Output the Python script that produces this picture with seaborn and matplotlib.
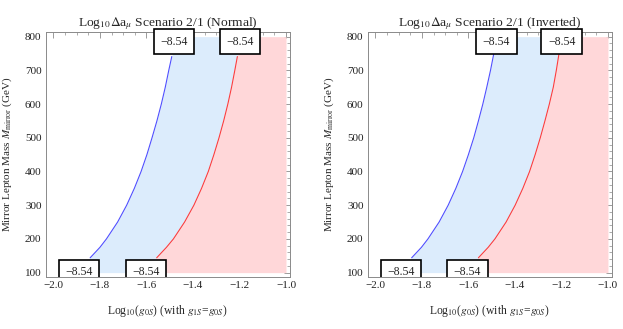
import numpy as np
import pandas as pd
import matplotlib
matplotlib.use('Agg')
import matplotlib.pyplot as plt
import seaborn as sns
from matplotlib.ticker import MultipleLocator

# contour points: (log10 g0S, mass in GeV)
mass = [144, 175, 200, 250, 300, 350, 400, 450, 500, 550, 600, 650, 700, 741]
normal_blue = [-1.842, -1.800, -1.772, -1.724, -1.685, -1.652, -1.623,
               -1.598, -1.576, -1.555, -1.536, -1.519, -1.504, -1.491]
normal_red = [-1.556, -1.514, -1.484, -1.436, -1.396, -1.363, -1.334,
              -1.310, -1.288, -1.268, -1.250, -1.234, -1.220, -1.209]

mass_inv = [144, 175, 200, 250, 300, 350, 400, 450, 500, 550, 600, 650, 700, 756]
inverted_blue = [-1.844, -1.802, -1.774, -1.726, -1.687, -1.654, -1.625,
                 -1.600, -1.577, -1.557, -1.538, -1.521, -1.505, -1.489]
inverted_red = [-1.557, -1.515, -1.486, -1.438, -1.399, -1.366, -1.337,
                -1.313, -1.291, -1.271, -1.252, -1.235, -1.222, -1.209]

contour_label = '\u22128.54'
titles = ['Log$_{10}\\Delta$a$_{\\mu}$ Scenario 2/1 (Normal)',
          'Log$_{10}\\Delta$a$_{\\mu}$ Scenario 2/1 (Inverted)']

sns.set_style('white')
plt.rcParams['font.family'] = ['Liberation Serif', 'DejaVu Serif']
plt.rcParams['mathtext.fontset'] = 'stix'

blue_fill = '#dcecfc'
red_fill = '#ffd7d9'
blue_line = '#4f4fff'
red_line = '#ff3c3c'
frame_col = '#8a8a8a'


def extend(x, m, lo=100, hi=800):
    # carry the end slopes out to the edges of the filled range
    x = np.asarray(x)
    m = np.asarray(m, dtype=float)
    x0 = x[0] - (x[1] - x[0]) / (m[1] - m[0]) * (m[0] - lo)
    x1 = x[-1] + (x[-1] - x[-2]) / (m[-1] - m[-2]) * (hi - m[-1])
    return np.concatenate([[x0], x, [x1]]), np.concatenate([[lo], m, [hi]])


fig = plt.figure(figsize=(6.23, 3.29), dpi=100)
ax1 = fig.add_axes([0.0734, 0.158, 0.392, 0.745])
ax2 = fig.add_axes([0.5902, 0.158, 0.392, 0.745])

panels = [(ax1, mass, normal_blue, normal_red, titles[0]),
          (ax2, mass_inv, inverted_blue, inverted_red, titles[1])]

for ax, m, xb, xr, title in panels:
    fb, yb = extend(xb, m)
    fr, _ = extend(xr, m)
    ax.fill_betweenx(yb, fb, fr, color=blue_fill, lw=0)
    ax.fill_betweenx(yb, fr, -1.0, color=red_fill, lw=0)

    df = pd.DataFrame({'x': list(xb) + list(xr),
                       'y': list(m) + list(m),
                       'c': ['b'] * len(m) + ['r'] * len(m)})
    sns.lineplot(data=df, x='x', y='y', hue='c', palette={'b': blue_line, 'r': red_line},
                 sort=False, estimator=None, lw=0.8, legend=False, ax=ax)

    box = dict(boxstyle='square,pad=0.55', fc='white', ec='black', lw=1.2)
    # labels at the contour ends
    for xe in (xb[0], xr[0]):
        ax.text(xe + 0.012, 101, contour_label, ha='right', va='center', fontsize=8.5,
                bbox=box, clip_on=True, zorder=5)
    for xe in (xb[-1], xr[-1]):
        ax.text(xe + 0.01, 785, contour_label, ha='center', va='center', fontsize=8.5,
                bbox=box, zorder=5)

    ax.set_xlim(-2.033, -0.983)
    ax.set_ylim(87, 814)
    ax.xaxis.set_major_locator(MultipleLocator(0.2))
    ax.xaxis.set_minor_locator(MultipleLocator(0.05))
    ax.yaxis.set_major_locator(MultipleLocator(100))
    ax.yaxis.set_minor_locator(MultipleLocator(20))
    ax.xaxis.set_major_formatter(plt.FuncFormatter(lambda v, p: f'{v:.1f}'.replace('-', '\u2212')))
    ax.tick_params(which='both', direction='in', top=True, right=True, color=frame_col,
                   labelsize=8, labelcolor='#222222', pad=3)
    ax.tick_params(which='major', length=4, width=0.6)
    ax.tick_params(which='minor', length=2, width=0.5)
    for s in ax.spines.values():
        s.set_color(frame_col)
        s.set_linewidth(0.7)
    ax.set_title(title, fontsize=9.7, pad=4)
    ax.set_xlabel('Log$_{10}$($g_{0S}$) (with $g_{1S}$=$g_{0S}$)', fontsize=8.4, labelpad=9)
    ax.set_ylabel('Mirror Lepton Mass $M_{\\rm mirror}$ (GeV)', fontsize=8, labelpad=8)

fig.savefig('out.png', dpi=100)
